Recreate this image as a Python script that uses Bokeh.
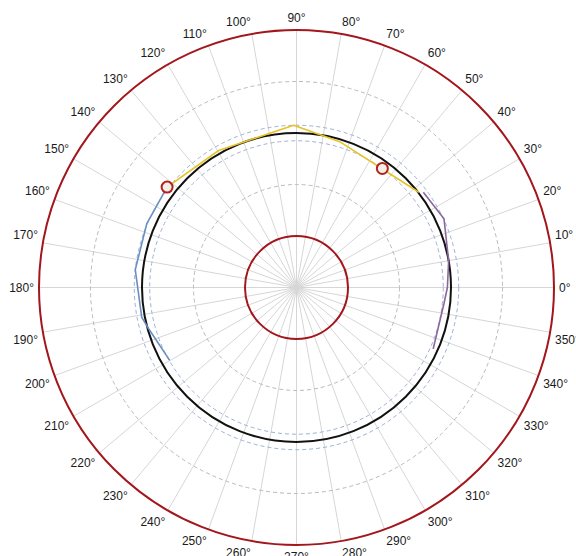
import numpy as np
from bokeh.plotting import figure
from bokeh.core.properties import value
from bokeh.embed import file_html
from bokeh.resources import INLINE

# ---- data ----
tick_angles = list(range(0, 360, 10))
tick_labels = [f"{a}°" for a in tick_angles]
inner_r = 1.0
nominal_r = 3.0
outer_r = 5.0
grid_r = [2.0, 4.0]
tol_r = [2.85, 3.15]

yellow_theta = [142.2, 119.6, 91.0, 73.2, 37.9]
yellow_r = [3.18, 3.06, 3.15, 2.95, 3.01]
blue_theta = [142.2, 156.9, 173.7, 190.9, 195.6, 209.9]
blue_r = [3.18, 3.16, 3.15, 3.06, 2.98, 2.84]
purple_theta = [36.9, 25.0, 10.0, 0.0, 353.7, 335.8]
purple_r = [3.08, 3.16, 3.00, 2.93, 2.88, 2.91]
marker_theta = [142.2, 54.2]
marker_r = [3.18, 2.85]

# ---- layout ----
W, H = 576, 556
PX = 51.5            # pixels per radial unit
cx, cy = 296, 287    # centre inside the figure (px)

p = figure(width=W, height=H, output_backend="svg", toolbar_location=None,
           x_range=(-cx / PX, (W - cx) / PX), y_range=(-(H - cy) / PX, cy / PX),
           min_border=0, match_aspect=False)
p.axis.visible = False
p.grid.visible = False
p.outline_line_color = None
p.background_fill_color = "white"
p.border_fill_color = "white"


def pol(theta_deg, r):
    t = np.radians(np.asarray(theta_deg, dtype=float))
    r = np.asarray(r, dtype=float)
    return r * np.cos(t), r * np.sin(t)


# radial spokes
ex, ey = pol(tick_angles, [outer_r] * len(tick_angles))
p.segment(x0=[0] * len(ex), y0=[0] * len(ey), x1=ex, y1=ey,
          line_color="#d6d6d6", line_width=1)

# dashed grid circles
p.circle(x=[0] * len(grid_r), y=[0] * len(grid_r), radius=grid_r,
         fill_color=None, line_color="#b9b9b9", line_dash="4 3", line_width=1)
p.circle(x=[0] * len(tol_r), y=[0] * len(tol_r), radius=tol_r,
         fill_color=None, line_color="#9db0d4", line_dash="4 3", line_width=1)

# nominal circle and limit circles
p.circle(x=[0], y=[0], radius=[nominal_r], fill_color=None,
         line_color="#111111", line_width=2)
p.circle(x=[0, 0], y=[0, 0], radius=[inner_r, outer_r], fill_color=None,
         line_color="#a3161c", line_width=2)

# data traces
yx, yy = pol(yellow_theta, yellow_r)
p.line(yx, yy, line_color="#e6c229", line_width=1.6)
bx, by = pol(blue_theta, blue_r)
p.line(bx, by, line_color="#6a8fc2", line_width=1.6)
qx, qy = pol(purple_theta, purple_r)
p.line(qx, qy, line_color="#8a679e", line_width=1.6)

mx, my = pol(marker_theta, marker_r)
p.scatter(mx, my, size=11, marker="circle", fill_color="#f3efe6",
          line_color="#b0221f", line_width=2)

# angle labels
off = outer_r + 5 / PX
groups = {}
for a, lab in zip(tick_angles, tick_labels):
    c, s = np.cos(np.radians(a)), np.sin(np.radians(a))
    align = "left" if c > 0.15 else ("right" if c < -0.15 else "center")
    base = "bottom" if s > 0.15 else ("top" if s < -0.15 else "middle")
    g = groups.setdefault((align, base), ([], [], []))
    g[0].append(off * c)
    g[1].append(off * s)
    g[2].append(lab)
for (align, base), (xs, ys, ts) in groups.items():
    p.text(x=xs, y=ys, text=ts, text_align=align, text_baseline=base,
           text_font=value("Liberation Sans"), text_font_size="12px",
           text_color="#1a1a1a")

open("out.html", "w").write(file_html(p, INLINE))
